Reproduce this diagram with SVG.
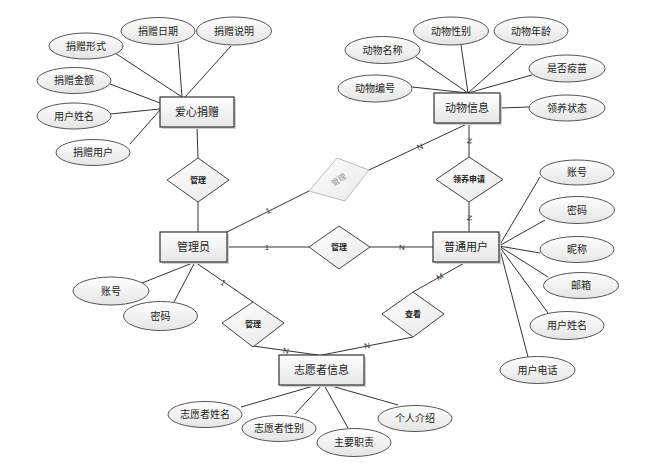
<svg xmlns="http://www.w3.org/2000/svg" width="660" height="470" viewBox="0 0 660 470">
<defs>
<linearGradient id="gEnt" x1="0" y1="0" x2="0" y2="1">
<stop offset="0" stop-color="#ffffff"/><stop offset="1" stop-color="#e6e6e6"/>
</linearGradient>
<linearGradient id="gEl" x1="0" y1="0" x2="0" y2="1">
<stop offset="0" stop-color="#ffffff"/><stop offset="1" stop-color="#e4e4e4"/>
</linearGradient>
<linearGradient id="gDia" x1="0" y1="0" x2="1" y2="1">
<stop offset="0" stop-color="#ffffff"/><stop offset="1" stop-color="#e8e8e8"/>
</linearGradient>
<style>
text{font-family:"Liberation Sans","Noto Sans CJK SC",sans-serif;fill:#222;text-anchor:middle;dominant-baseline:central}
.ent rect.box{fill:url(#gEnt);stroke:#333;stroke-width:1.2}
.ent rect.sh{fill:#cfcfcf}
.ent text{font-size:11px}
.att ellipse{fill:url(#gEl);stroke:#555;stroke-width:1}
.att text{font-size:10px}
.rel polygon{fill:url(#gDia);stroke:#444;stroke-width:1}
.rel text{font-size:8px;font-weight:bold}
.faint polygon{stroke:#bbb}
.faint text{fill:#999;font-weight:normal}
#connectors line{stroke:#333;stroke-width:1}
.card{font-size:8px;fill:#333}
</style>
</defs>
<rect width="660" height="470" fill="#fff"/>

<g id="connectors">
<!-- 爱心捐赠 attributes -->
<line x1="115" y1="53" x2="182" y2="97"/>
<line x1="178" y1="44" x2="182" y2="97"/>
<line x1="231" y1="46" x2="185" y2="97"/>
<line x1="110" y1="84" x2="160" y2="103"/>
<line x1="110" y1="114" x2="160" y2="109"/>
<line x1="130" y1="144" x2="160" y2="110"/>
<line x1="197" y1="127" x2="198" y2="158"/>
<line x1="198" y1="202" x2="198" y2="232"/>
<!-- 动物信息 attributes -->
<line x1="416" y1="57" x2="468" y2="93"/>
<line x1="461" y1="45" x2="468" y2="93"/>
<line x1="521" y1="46" x2="468" y2="93"/>
<line x1="532" y1="75" x2="468" y2="93"/>
<line x1="412" y1="87" x2="468" y2="93"/>
<line x1="500" y1="108" x2="529" y2="107"/>
<line x1="469" y1="123" x2="469" y2="157"/>
<line x1="469" y1="202" x2="469" y2="232"/>
<!-- tilted relation -->
<line x1="227" y1="232" x2="309" y2="191"/>
<line x1="369" y1="170" x2="469" y2="123"/>
<!-- middle row -->
<line x1="227" y1="247" x2="309" y2="247"/>
<line x1="370" y1="247" x2="433" y2="247"/>
<!-- 普通用户 attributes -->
<line x1="499" y1="246" x2="540" y2="177"/>
<line x1="499" y1="246" x2="545" y2="220"/>
<line x1="499" y1="246" x2="540" y2="253"/>
<line x1="499" y1="246" x2="548" y2="277"/>
<line x1="499" y1="246" x2="548" y2="313"/>
<line x1="499" y1="246" x2="528" y2="357"/>
<!-- 普通用户 to 查看 -->
<line x1="466" y1="262" x2="413" y2="292"/>
<line x1="413" y1="337" x2="322" y2="355"/>
<!-- 管理员 to lower 管理 -->
<line x1="195" y1="262" x2="253" y2="302"/>
<line x1="253" y1="346" x2="318" y2="355"/>
<!-- 管理员 attributes -->
<line x1="195" y1="262" x2="142" y2="283"/>
<line x1="195" y1="262" x2="174" y2="302"/>
<!-- 志愿者信息 attributes -->
<line x1="317" y1="385" x2="241" y2="407"/>
<line x1="322" y1="385" x2="295" y2="414"/>
<line x1="324" y1="385" x2="348" y2="428"/>
<line x1="328" y1="385" x2="398" y2="405"/>
<!-- cardinalities -->
<text class="card" x="268" y="211" transform="rotate(-27 268 211)">1</text>
<text class="card" x="420" y="147" transform="rotate(-25 420 147)">N</text>
<text class="card" x="267" y="247">1</text>
<text class="card" x="402" y="247">N</text>
<text class="card" x="469" y="141" transform="rotate(90 469 141)">N</text>
<text class="card" x="469" y="218" transform="rotate(90 469 218)">N</text>
<text class="card" x="440" y="277" transform="rotate(-29 440 277)">M</text>
<text class="card" x="367" y="346" transform="rotate(-11 367 346)">N</text>
<text class="card" x="286" y="351" transform="rotate(7 286 351)">N</text>
<text class="card" x="223" y="283" transform="rotate(34 223 283)">1</text>
</g>

<!-- entities -->
<g id="e_aixin" class="ent"><rect class="sh" x="162" y="99" width="74" height="30"/><rect class="box" x="160" y="97" width="74" height="30"/><text x="197" y="112">爱心捐赠</text></g>
<g id="e_dongwu" class="ent"><rect class="sh" x="436" y="95" width="66" height="30"/><rect class="box" x="434" y="93" width="66" height="30"/><text x="467" y="108">动物信息</text></g>
<g id="e_guanli" class="ent"><rect class="sh" x="162" y="234" width="67" height="30"/><rect class="box" x="160" y="232" width="67" height="30"/><text x="193.5" y="247">管理员</text></g>
<g id="e_putong" class="ent"><rect class="sh" x="435" y="234" width="66" height="30"/><rect class="box" x="433" y="232" width="66" height="30"/><text x="466" y="247">普通用户</text></g>
<g id="e_zhiyuan" class="ent"><rect class="sh" x="281" y="357" width="85" height="30"/><rect class="box" x="279" y="355" width="85" height="30"/><text x="321.5" y="370">志愿者信息</text></g>

<!-- relationships -->
<g id="r_guanli1" class="rel"><polygon points="198,158 229,180 198,202 167,180"/><text x="198" y="180">管理</text></g>
<g id="r_guanli2" class="rel"><polygon points="339,226 370,247 339,269 309,247"/><text x="339" y="247">管理</text></g>
<g id="r_lingyang" class="rel"><polygon points="469,157 503,179.5 469,202 436,179.5"/><text x="469" y="179.5">领养申请</text></g>
<g id="r_chakan" class="rel"><polygon points="413,292 444,314 413,337 382,314"/><text x="413" y="314">查看</text></g>
<g id="r_guanli3" class="rel"><polygon points="253,302 284,323 253,347 222,323"/><text x="253" y="324">管理</text></g>
<g id="r_guanli4" class="rel faint"><polygon points="337,158 369,170 345,201 309,191"/><text x="339" y="180" transform="rotate(-33 339 180)">管理</text></g>

<!-- attributes -->
<g id="a1" class="att"><ellipse cx="86" cy="46" rx="37" ry="13"/><text x="86" y="46">捐赠形式</text></g>
<g id="a2" class="att"><ellipse cx="158" cy="31" rx="37" ry="13.5"/><text x="158" y="31">捐赠日期</text></g>
<g id="a3" class="att"><ellipse cx="234" cy="31" rx="37.5" ry="14"/><text x="234" y="31">捐赠说明</text></g>
<g id="a4" class="att"><ellipse cx="74" cy="80.5" rx="37" ry="13"/><text x="74" y="80.5">捐赠金额</text></g>
<g id="a5" class="att"><ellipse cx="74" cy="116" rx="37" ry="13"/><text x="74" y="116">用户姓名</text></g>
<g id="a6" class="att"><ellipse cx="93" cy="152.5" rx="37" ry="13"/><text x="93" y="152.5">捐赠用户</text></g>

<g id="a7" class="att"><ellipse cx="382.5" cy="50" rx="37.5" ry="13.5"/><text x="382.5" y="50">动物名称</text></g>
<g id="a8" class="att"><ellipse cx="451" cy="31" rx="37.5" ry="14"/><text x="451" y="31">动物性别</text></g>
<g id="a9" class="att"><ellipse cx="531" cy="31" rx="37" ry="14"/><text x="531" y="31">动物年龄</text></g>
<g id="a10" class="att"><ellipse cx="567" cy="68.5" rx="38" ry="13.5"/><text x="567" y="68.5">是否疫苗</text></g>
<g id="a11" class="att"><ellipse cx="375" cy="88.5" rx="37" ry="13.5"/><text x="375" y="88.5">动物编号</text></g>
<g id="a12" class="att"><ellipse cx="567" cy="108" rx="38" ry="13"/><text x="567" y="108">领养状态</text></g>

<g id="a13" class="att"><ellipse cx="577" cy="172.5" rx="37" ry="12.5"/><text x="577" y="172.5">账号</text></g>
<g id="a14" class="att"><ellipse cx="577" cy="210" rx="37.5" ry="13.5"/><text x="577" y="210">密码</text></g>
<g id="a15" class="att"><ellipse cx="577" cy="249.5" rx="37" ry="13"/><text x="577" y="249.5">昵称</text></g>
<g id="a16" class="att"><ellipse cx="581" cy="285.5" rx="37.5" ry="13"/><text x="581" y="285.5">邮箱</text></g>
<g id="a17" class="att"><ellipse cx="567" cy="325.5" rx="37" ry="14"/><text x="567" y="325.5">用户姓名</text></g>
<g id="a18" class="att"><ellipse cx="537.5" cy="370" rx="37.5" ry="13.5"/><text x="537.5" y="370">用户电话</text></g>

<g id="a19" class="att"><ellipse cx="111" cy="291" rx="38" ry="14"/><text x="111" y="291">账号</text></g>
<g id="a20" class="att"><ellipse cx="160.5" cy="316" rx="37" ry="14.5"/><text x="160.5" y="316">密码</text></g>

<g id="a21" class="att"><ellipse cx="205" cy="414.5" rx="37" ry="13"/><text x="205" y="414.5">志愿者姓名</text></g>
<g id="a22" class="att"><ellipse cx="279" cy="428.5" rx="37" ry="13"/><text x="279" y="428.5">志愿者性别</text></g>
<g id="a23" class="att"><ellipse cx="354" cy="442.5" rx="37" ry="14"/><text x="354" y="442.5">主要职责</text></g>
<g id="a24" class="att"><ellipse cx="415" cy="418.5" rx="37" ry="13"/><text x="415" y="418.5">个人介绍</text></g>
</svg>
